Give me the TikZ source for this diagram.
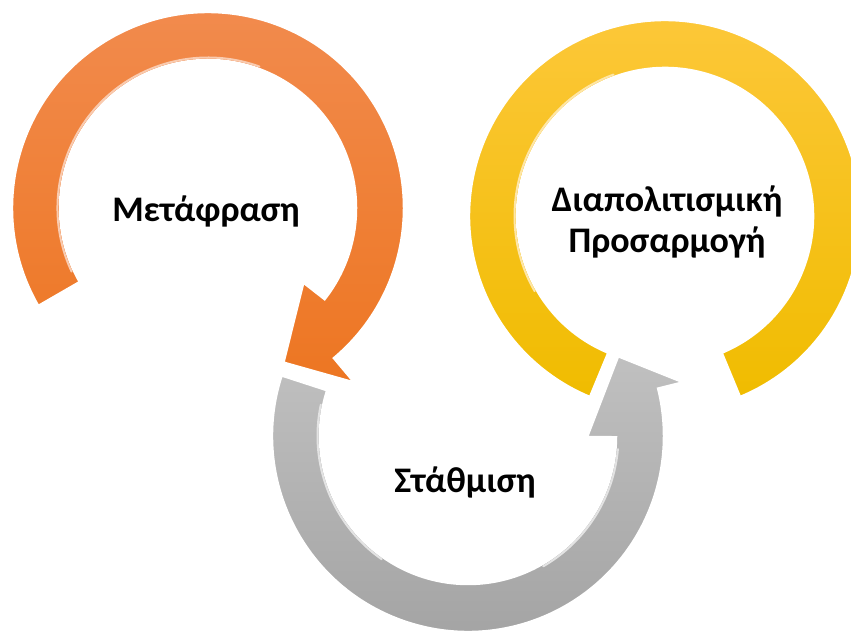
\documentclass[tikz,border=0pt]{standalone}
\usepackage{fontspec}
\setmainfont{Carlito}
\usetikzlibrary{calc}
\definecolor{orTop}{RGB}{242,140,80}
\definecolor{orBot}{RGB}{237,118,34}
\definecolor{yeTop}{RGB}{253,200,60}
\definecolor{yeBot}{RGB}{240,188,0}
\definecolor{grTop}{RGB}{192,192,192}
\definecolor{grBot}{RGB}{162,162,162}
\begin{document}
\begin{tikzpicture}[x=1pt,y=1pt,
  lbl/.style={font=\bfseries\fontsize{36}{42}\selectfont, anchor=base, inner sep=0pt, text=black},
  ringedge/.style={draw=white, line width=2.5pt, line join=miter},
  shine/.style={line width=2pt, line cap=round}]
\useasboundingbox (0,0) rectangle (851,634);
\fill[white] (0,0) rectangle (851,634);
\coordinate (O) at (208,426);
\coordinate (G) at (468,198);
\coordinate (Y) at (665,418);
% yellow ring (gap at bottom)
\path[ringedge, top color=yeTop, bottom color=yeBot]
  ($(Y)+(-67.5:196)$) arc[start angle=-67.5, end angle=247.5, radius=196]
  -- ($(Y)+(247.5:148)$) arc[start angle=247.5, end angle=-67.5, radius=148] -- cycle;
\draw[shine, yeTop!45!white] ($(Y)+(210:150.5)$) arc[start angle=210, end angle=110, radius=150.5];
% gray arrow (counterclockwise)
\path[ringedge, top color=grTop, bottom color=grBot]
  ($(G)+(162:196)$) arc[start angle=162, end angle=374, radius=196]
  -- ($(G)+(374:222)$) -- ($(G)+(388:170)$) -- ($(G)+(359.5:119)$)
  -- ($(G)+(359.5:148)$) arc[start angle=359.5, end angle=162, radius=148] -- cycle;
\draw[shine, grTop!45!white] ($(G)+(168:150.5)$) arc[start angle=168, end angle=235, radius=150.5];
\draw[shine, grTop!45!white] ($(G)+(300:150.5)$) arc[start angle=300, end angle=355, radius=150.5];
% orange arrow (clockwise)
\path[ringedge, top color=orTop, bottom color=orBot]
  ($(O)+(210:196)$) arc[start angle=210, end angle=-50, radius=196]
  -- ($(O)+(-50:228)$) -- ($(O)+(-64:172)$) -- ($(O)+(-38:121)$)
  -- ($(O)+(-38:148)$) arc[start angle=-38, end angle=210, radius=148] -- cycle;
\draw[shine, orTop!45!white] ($(O)+(205:150.5)$) arc[start angle=205, end angle=70, radius=150.5];
% labels
\node[lbl] (t1) at (206,412) {Μετάφραση};
\node[lbl] (t2) at (465,141) {Στάθμιση};
\node[lbl] (t3) at (667,422) {Διαπολιτισμική};
\node[lbl] (t4) at (667,381) {Προσαρμογή};
\end{tikzpicture}
\end{document}
